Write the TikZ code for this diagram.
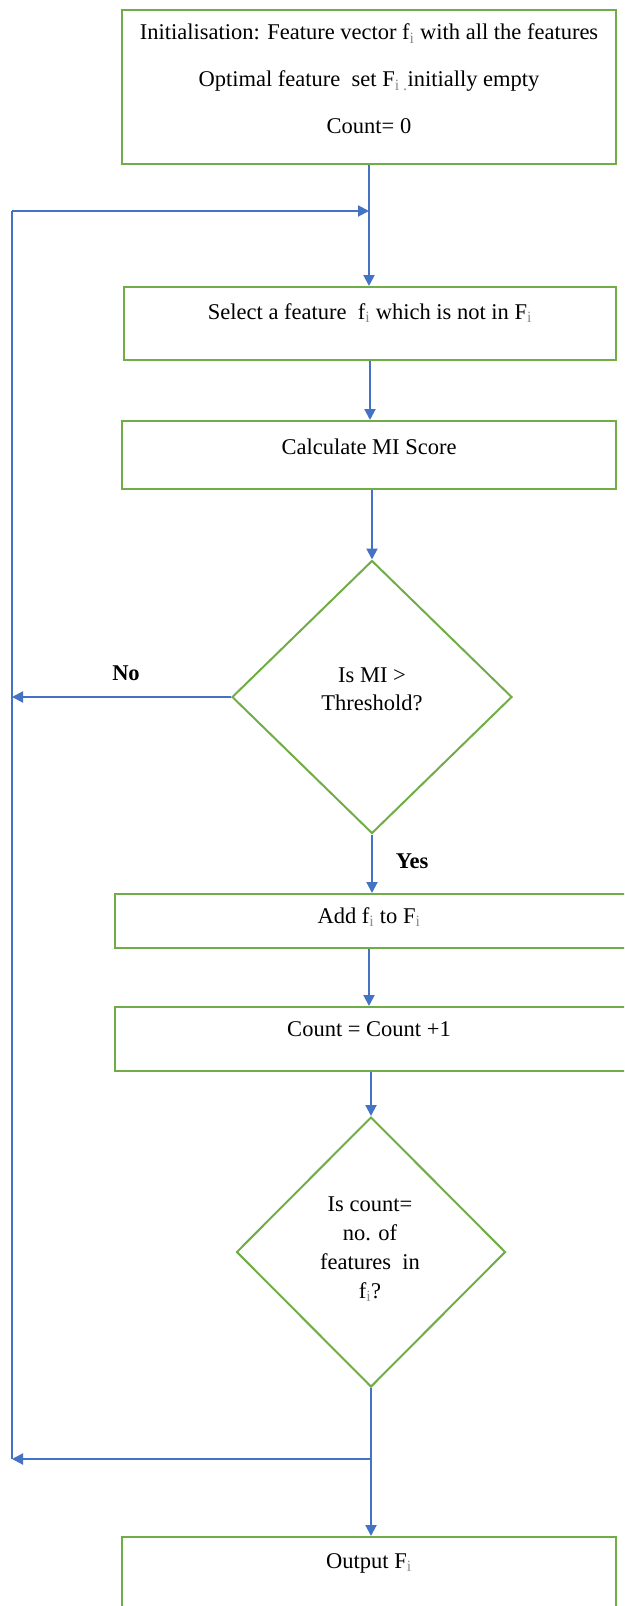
\documentclass[tikz,border=0pt]{standalone}
\usepackage{fontspec}
\setmainfont{Liberation Serif}
\usepackage{xcolor}
\usetikzlibrary{shapes.geometric, arrows.meta}

\definecolor{flowblue}{HTML}{4472C4}
\definecolor{flowgreen}{HTML}{70AD47}

% small index letters
\newcommand{\idx}[1]{\textsubscript{\textcolor{black!45}{#1}}}

\tikzset{
    procbox/.style={draw=flowgreen, line width=2pt, rectangle, inner sep=0pt},
    decbox/.style={draw=flowgreen, line width=2pt, diamond, inner sep=0pt},
    flowtxt/.style={font=\fontsize{22.5}{29}\selectfont, inner sep=0pt},
    flowline/.style={draw=flowblue, line width=2pt},
    flowarrow/.style={flowline, -{Triangle[length=11pt, width=11pt]}}
}

\begin{document}
\begin{tikzpicture}[x=1pt, y=-1pt]
    \useasboundingbox (0,0) rectangle (624,1606);
    \clip (0,0) rectangle (624,1606);

    % Initialisation
    \node[procbox, minimum width=494, minimum height=154] (init) at (369,87) {};
    \node[flowtxt, align=center, font=\fontsize{22.5}{47}\selectfont] (initlbl) at (369,79)
        {Initialisation: Feature vector f\idx{i} with all the features\\
         Optimal feature\ \ set F\idx{i .}initially empty\\
         Count= 0};

    % Select and calculate
    \node[procbox, minimum width=492, minimum height=73] (select) at (370,323.5) {};
    \node[flowtxt] (selectlbl) at (370,313) {Select a feature\ \ f\idx{i} which is not in F\idx{i}};
    \node[procbox, minimum width=494, minimum height=68] (calc) at (369,455) {};
    \node[flowtxt] (calclbl) at (369,447) {Calculate MI Score};

    % Threshold test
    \node[decbox, minimum width=280, minimum height=273] (thr) at (372,697) {};
    \node[flowtxt, align=center, font=\fontsize{22.5}{28}\selectfont] (thrlbl) at (372,689) {Is MI >\\Threshold?};
    \node[flowtxt, font=\bfseries\fontsize{22.5}{29}\selectfont] (nolbl) at (126,673) {No};
    \node[flowtxt, font=\bfseries\fontsize{22.5}{29}\selectfont] (yeslbl) at (412,861) {Yes};

    % Add and count
    \node[procbox, minimum width=511, minimum height=54] (add) at (370.5,921) {};
    \node[flowtxt] (addlbl) at (369,917) {Add f\idx{i} to F\idx{i}};
    \node[procbox, minimum width=511, minimum height=64] (count) at (370.5,1039) {};
    \node[flowtxt] (countlbl) at (369,1029) {Count = Count +1};

    % Count test
    \node[decbox, minimum width=269, minimum height=270] (cnt) at (371,1252) {};
    \node[flowtxt, align=center] (cntlbl) at (370,1249) {Is count=\\ no. of\\features\ \ in\\f\idx{i}?};

    % Output
    \node[procbox, minimum width=494, minimum height=100] (out) at (369,1587) {};
    \node[flowtxt] (outlbl) at (369,1563) {Output F\idx{i}};

    % loop points
    \coordinate (looptop) at (12,211);
    \coordinate (loopin) at (init.south |- looptop);
    \coordinate (noend) at (12,697);
    \coordinate (split) at (cnt.south |- 0,1459);
    \coordinate (loopbot) at (12,1459);

    % Arrows down the main line
    \draw[flowarrow] (init.south) -- (init.south |- select.north);
    \draw[flowarrow] (select.south) -- (select.south |- calc.north);
    \draw[flowarrow] (calc.south -| thr.north) -- (thr.north);
    \draw[flowarrow] (thr.south) -- (thr.south |- add.north);
    \draw[flowarrow] (add.south -| init.south) -- (init.south |- count.north);
    \draw[flowarrow] (count.south -| cnt.north) -- (cnt.north);
    \draw[flowarrow] (cnt.south) -- (cnt.south |- out.north);

    % Loop back
    \draw[flowarrow] (thr.west) -- (noend);
    \draw[flowarrow] (split) -- (loopbot);
    \draw[flowline] (loopbot) -- (looptop);
    \draw[flowarrow] (looptop) -- (loopin);
\end{tikzpicture}
\end{document}
